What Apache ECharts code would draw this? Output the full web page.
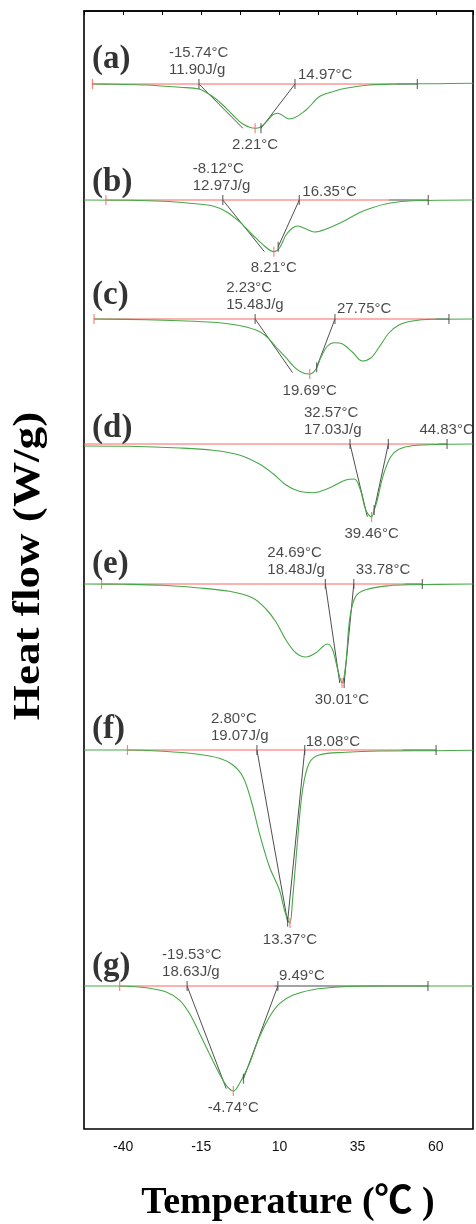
<!DOCTYPE html>
<html>
<head>
<meta charset="utf-8">
<script src="https://cdn.jsdelivr.net/npm/echarts@6/dist/echarts.min.js"></script>
<style>
  html, body { margin: 0; padding: 0; background: #fff; }
  #chart { width: 476px; height: 1224px; }
</style>
</head>
<body>
<div id="chart"></div>
<script>
// ---- DSC melting traces, samples (a)-(g) ----
const panelTags = ['(a)', '(b)', '(c)', '(d)', '(e)', '(f)', '(g)'];
const tickLabels = [-40, -15, 10, 35, 60];           // labelled temperatures, °C

// vertical shift of each trace (W/g) so the curves stack
const curveShift = [-0.73, -1.89, -3.08, -4.33, -5.73, -7.39, -9.75];

const onsetT   = [-15.74, -8.12, 2.23, 32.57, 24.69, 2.80, -19.53];
const endsetT  = [14.97, 16.35, 27.75, 44.83, 33.78, 18.08, 9.49];
const peakT    = [2.21, 8.21, 19.69, 39.46, 30.01, 13.37, -4.74];
const enthalpy = [11.90, 12.97, 15.48, 17.03, 18.48, 19.07, 18.63];   // J/g

// [temperature °C, heat flow W/g] relative to each trace's baseline
const curveA = [[-50,0],[-43.2,-0.003],[-32.5,-0.010],[-21.9,-0.033],[-15.8,-0.050],[-11.3,-0.127],[-8.1,-0.210],[-4.9,-0.310],[-1.7,-0.400],[2.21,-0.443],[4.1,-0.427],[6.2,-0.367],[7.8,-0.310],[9.4,-0.293],[13.2,-0.350],[18.5,-0.260],[22.7,-0.127],[27.0,-0.077],[31.2,-0.043],[38.7,-0.010],[47.2,0],[60,0.003],[71.9,0.007]];
const curveB = [[-52.5,0],[-37.9,-0.003],[-27.2,-0.013],[-18.7,-0.033],[-11.3,-0.060],[-7.0,-0.117],[-2.8,-0.217],[1.45,-0.350],[5.2,-0.460],[8.21,-0.517],[10.0,-0.480],[12.1,-0.350],[14.2,-0.280],[15.8,-0.260],[18.5,-0.290],[21.1,-0.320],[24.9,-0.290],[30.2,-0.217],[35.5,-0.127],[39.7,-0.077],[45.0,-0.033],[52.5,-0.007],[71.9,0]];
const curveC = [[-49.3,0],[-32.5,-0.007],[-21.9,-0.017],[-11.3,-0.033],[-3.8,-0.060],[2.5,-0.110],[5.7,-0.170],[8.9,-0.280],[12.1,-0.387],[15.3,-0.497],[17.4,-0.537],[19.69,-0.550],[21.7,-0.500],[23.3,-0.380],[25.4,-0.270],[27.5,-0.237],[30.2,-0.250],[33.3,-0.330],[36.5,-0.420],[39.2,-0.390],[41.9,-0.280],[45.0,-0.140],[48.2,-0.060],[52.5,-0.020],[58.8,-0.003],[71.9,0]];
const curveD = [[-52.5,-0.020],[-37.9,-0.023],[-21.9,-0.040],[-11.3,-0.063],[-2.8,-0.110],[3.6,-0.200],[7.8,-0.293],[12.1,-0.410],[16.3,-0.473],[20.6,-0.487],[25.9,-0.440],[31.2,-0.360],[33.9,-0.350],[35.9,-0.460],[37.6,-0.660],[39.46,-0.730],[40.3,-0.660],[41.3,-0.560],[42.3,-0.420],[43.4,-0.293],[45.6,-0.127],[48.2,-0.053],[52.5,-0.017],[63.1,-0.003],[71.9,0]];
const curveE = [[-52.5,0],[-40,-0.003],[-27.2,-0.013],[-16.6,-0.037],[-6.0,-0.073],[1.45,-0.140],[5.7,-0.250],[8.9,-0.380],[12.1,-0.560],[15.3,-0.690],[18.5,-0.730],[21.7,-0.687],[25.4,-0.600],[27.0,-0.657],[28.6,-0.850],[30.01,-0.990],[31.2,-0.807],[32.5,-0.340],[34.4,-0.123],[37.6,-0.057],[45.0,-0.017],[52.5,-0.007],[71.9,0]];
const curveF = [[-52.5,0],[-38.6,0],[-27.2,-0.013],[-16.6,-0.040],[-9.2,-0.083],[-4.9,-0.150],[-1.7,-0.267],[0.9,-0.500],[3.6,-0.833],[6.8,-1.167],[10.0,-1.400],[11.6,-1.600],[12.8,-1.710],[13.37,-1.730],[14.2,-1.500],[15.8,-0.900],[17.4,-0.400],[19.5,-0.133],[22.7,-0.050],[31.2,-0.023],[41.9,-0.010],[60.1,-0.007],[71.9,-0.003]];
const curveG = [[-52.5,0],[-41.1,0],[-32.5,-0.017],[-26.2,-0.060],[-21.9,-0.143],[-18.7,-0.277],[-15.5,-0.477],[-12.4,-0.677],[-9.2,-0.877],[-7.0,-0.993],[-4.74,-1.050],[-2.8,-0.977],[0.4,-0.777],[3.6,-0.510],[6.8,-0.310],[10.0,-0.177],[14.2,-0.093],[20.6,-0.037],[29.1,-0.010],[41.9,0],[71.9,0]];
const curves = [curveA, curveB, curveC, curveD, curveE, curveF, curveG];

// lower ends of the leading / trailing edge tangents (from onset and endset on the baseline)
const leadTangentEnd  = [[-1.7,-0.443],[5.2,-0.517],[14.2,-0.537],[38.1,-0.727],[29.3,-0.990],[12.6,-1.717],[-7.0,-1.027]];
const trailTangentEnd = [[4.1,-0.443],[9.6,-0.467],[21.9,-0.483],[40.3,-0.660],[30.7,-0.990],[12.6,-1.717],[-1.5,-0.927]];

// integration baseline: [start, end of red part, end], °C (null start = from axis edge)
const baselineStart = [-49.8, -45.5, -49.3, null, -46.9, -38.6, -41.1];
const baselineRedEnd = [47.2, 45.0, 60.0, 61.0, 50.0, 49.3, 8.4];
const baselineEnd    = [54.1, 57.6, 64.2, 63.6, 55.7, 60.1, 57.5];

// ---- layout / style ----
const X_MIN = -52.5, X_MAX = 71.9;
const GREEN = '#46a846', RED = '#ff6262', DARK = '#4a4a4a', TAN = '#3a3a3a';
const SANS = "'Liberation Sans', Arial, sans-serif";
const SERIF = "'Liberation Serif', 'Times New Roman', 'Noto Sans CJK SC', serif";
const onsetLabelDx = [-30, -30, -29, -46, -58, -46, -25];
const endLabelNudge = [[3,-9],[3,-8],[2,-10],[31,-14],[2,-14],[1,-8],[1,-10]];
const tagLift = [25, 18, 24, 16, 20, 21, 20];

const labelFont = { fontFamily: SANS, fontSize: 15, color: '#1a1a1a', lineHeight: 17 };

const series = [];
curves.forEach((curve, i) => {
  const s = curveShift[i];
  const up = ([t, h]) => [t, h + s];
  const peakDepth = curve.reduce((m, p) => Math.min(m, p[1]), 0);
  const left = baselineStart[i] == null ? X_MIN : baselineStart[i];

  // red integration baseline and its darker tail
  series.push({ type: 'line', data: [[left, s], [baselineRedEnd[i], s]], showSymbol: false, silent: true,
    lineStyle: { color: RED, width: 1.2 }, z: 4 });
  series.push({ type: 'line', data: [[baselineRedEnd[i], s], [baselineEnd[i], s]], showSymbol: false, silent: true,
    lineStyle: { color: DARK, width: 1.2 }, z: 4 });

  // tangents used for onset / endset
  series.push({ type: 'line', data: [[onsetT[i], s], up(leadTangentEnd[i])], showSymbol: false, silent: true,
    lineStyle: { color: TAN, width: 0.9 }, z: 3 });
  series.push({ type: 'line', data: [[endsetT[i], s], up(trailTangentEnd[i])], showSymbol: false, silent: true,
    lineStyle: { color: TAN, width: 0.9 }, z: 3 });

  // heat flow trace
  series.push({ type: 'line', data: curve.map(up), smooth: 0.35, showSymbol: false, silent: true,
    lineStyle: { color: GREEN, width: 1.1 }, z: 5 });

  // small vertical markers
  const marks = [
    { value: [onsetT[i], s], itemStyle: { color: DARK } },
    { value: [endsetT[i], s], itemStyle: { color: DARK } },
    { value: [baselineEnd[i], s], itemStyle: { color: DARK } },
    { value: [peakT[i], s + peakDepth], itemStyle: { color: RED } },
    { value: up(trailTangentEnd[i]), itemStyle: { color: DARK } }
  ];
  if (baselineStart[i] != null) marks.push({ value: [baselineStart[i], s], itemStyle: { color: RED } });
  series.push({ type: 'scatter', data: marks, symbol: 'rect', symbolSize: [1.2, 10], silent: true, z: 6 });

  // text annotations
  const nudge = endLabelNudge[i];
  series.push({
    type: 'scatter', symbolSize: 0.1, silent: true, z: 7,
    itemStyle: { color: 'rgba(0,0,0,0)' },
    data: [
      { value: [onsetT[i], s], label: Object.assign({ show: true, position: 'top', distance: 6, align: 'left',
          offset: [onsetLabelDx[i], 0],
          formatter: onsetT[i].toFixed(2) + '°C\n' + enthalpy[i].toFixed(2) + 'J/g' }, labelFont) },
      { value: [endsetT[i], s], label: Object.assign({ show: true, position: 'right', distance: nudge[0],
          offset: [0, nudge[1]], formatter: endsetT[i].toFixed(2) + '°C' }, labelFont) },
      { value: [peakT[i], s + peakDepth], label: Object.assign({ show: true, position: 'bottom', distance: 8,
          formatter: peakT[i].toFixed(2) + '°C' }, labelFont) },
      { value: [X_MIN, s], label: { show: true, position: 'right', distance: 8, offset: [0, -tagLift[i]],
          formatter: panelTags[i], fontFamily: SERIF, fontWeight: 'bold', fontSize: 33, color: '#000' } }
    ]
  });
});

const chart = echarts.init(document.getElementById('chart'), null, { renderer: 'canvas' });
chart.setOption({
  animation: false,
  backgroundColor: '#fff',
  grid: { left: 84, right: 2, top: 11, bottom: 95, show: true, borderColor: '#000', borderWidth: 1.6 },
  xAxis: {
    type: 'value', min: X_MIN, max: X_MAX, interval: 12.5,
    axisLine: { show: true, lineStyle: { color: '#000', width: 1.6 } },
    axisTick: { show: true, inside: false, length: 4, lineStyle: { color: '#000', width: 1 } },
    axisLabel: {
      margin: 11, color: '#111', fontSize: 14, fontFamily: SANS,
      formatter: v => tickLabels.some(t => Math.abs(t - v) < 1e-6) ? String(Math.round(v)) : ''
    },
    splitLine: { show: false }
  },
  yAxis: { type: 'value', min: -11.18, max: 0, show: false },
  series: series,
  graphic: [
    { type: 'text', x: 288, y: 1203, silent: true,
      style: { text: 'Temperature (℃ )', fill: '#000', align: 'center', verticalAlign: 'middle',
        font: 'bold 38px ' + SERIF } },
    { type: 'text', x: 29, y: 566, rotation: Math.PI / 2, scaleX: 1.22, silent: true,
      style: { text: 'Heat flow (W/g)', fill: '#000', align: 'center', verticalAlign: 'middle',
        font: 'bold 37px ' + SERIF } }
  ]
});
</script>
</body>
</html>
